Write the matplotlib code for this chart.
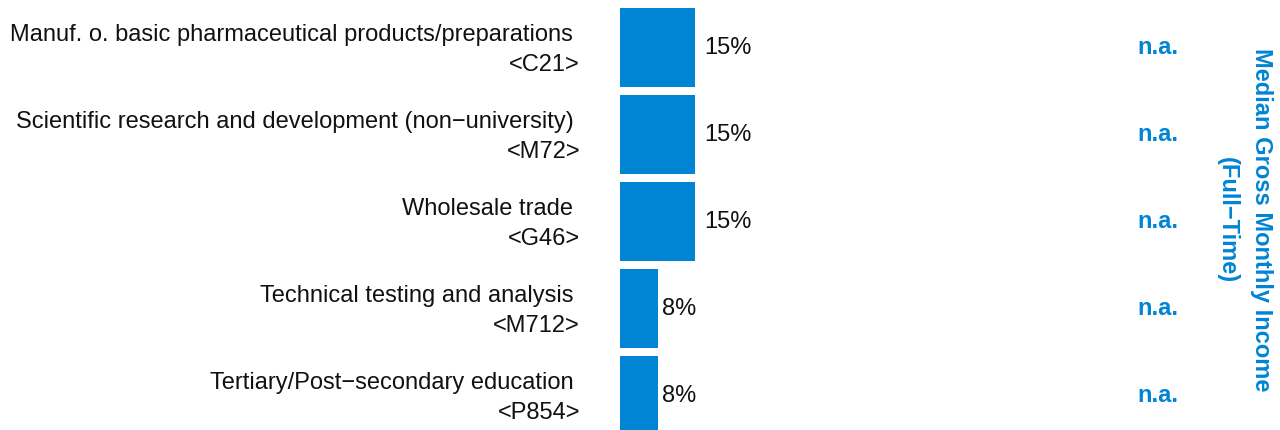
import matplotlib
matplotlib.use('Agg')
import matplotlib.pyplot as plt
from matplotlib.transforms import blended_transform_factory

categories = ["Manuf. o. basic pharmaceutical products/preparations",
              "Scientific research and development (non\u2212university)",
              "Wholesale trade",
              "Technical testing and analysis",
              "Tertiary/Post\u2212secondary education"]
codes = ["C21", "M72", "G46", "M712", "P854"]
shares = [15, 15, 15, 7.5, 7.5]
income = ["n.a.", "n.a.", "n.a.", "n.a.", "n.a."]
side_title = "Median Gross Monthly Income\n(Full\u2212Time)"

BLUE = '#0084D4'
plt.rcParams['font.family'] = ['Liberation Sans', 'DejaVu Sans']
W, H = 1280, 430
FS = 17

fig = plt.figure(figsize=(W / 100, H / 100), dpi=100)
ax = fig.add_axes([620 / W, 0, 500 / W, 1])
ax.set_xlim(0, 100)
pitch = 87
ax.set_ylim((H - 47.5) / pitch, -47.5 / pitch)
ypos = list(range(len(categories)))
ax.barh(ypos, shares, height=79 / pitch, color=BLUE)
ax.axis('off')

tr = blended_transform_factory(fig.transFigure, ax.transData)
for i, (cat, code, v, inc) in enumerate(zip(categories, codes, shares, income)):
    ax.text(v * 1.13, i, f"{int(v + 0.5)}%", va='center', ha='left', fontsize=FS, color='#111111')
    ax.text(580 / W, i + 0.028, f"{cat} \n<{code}>", transform=tr, ha='right', va='center',
            multialignment='right', fontsize=FS, linespacing=1.5, color='#111111')
    ax.text(1158 / W, i, inc, transform=tr, ha='center', va='center', fontsize=FS,
            fontweight='bold', color=BLUE)

fig.text(1244 / W, 1 - 220 / H, side_title, rotation=-90, ha='center', va='center',
         multialignment='center', fontsize=FS, fontweight='bold', color=BLUE, linespacing=1.62)

fig.savefig('out.png', dpi=100)
